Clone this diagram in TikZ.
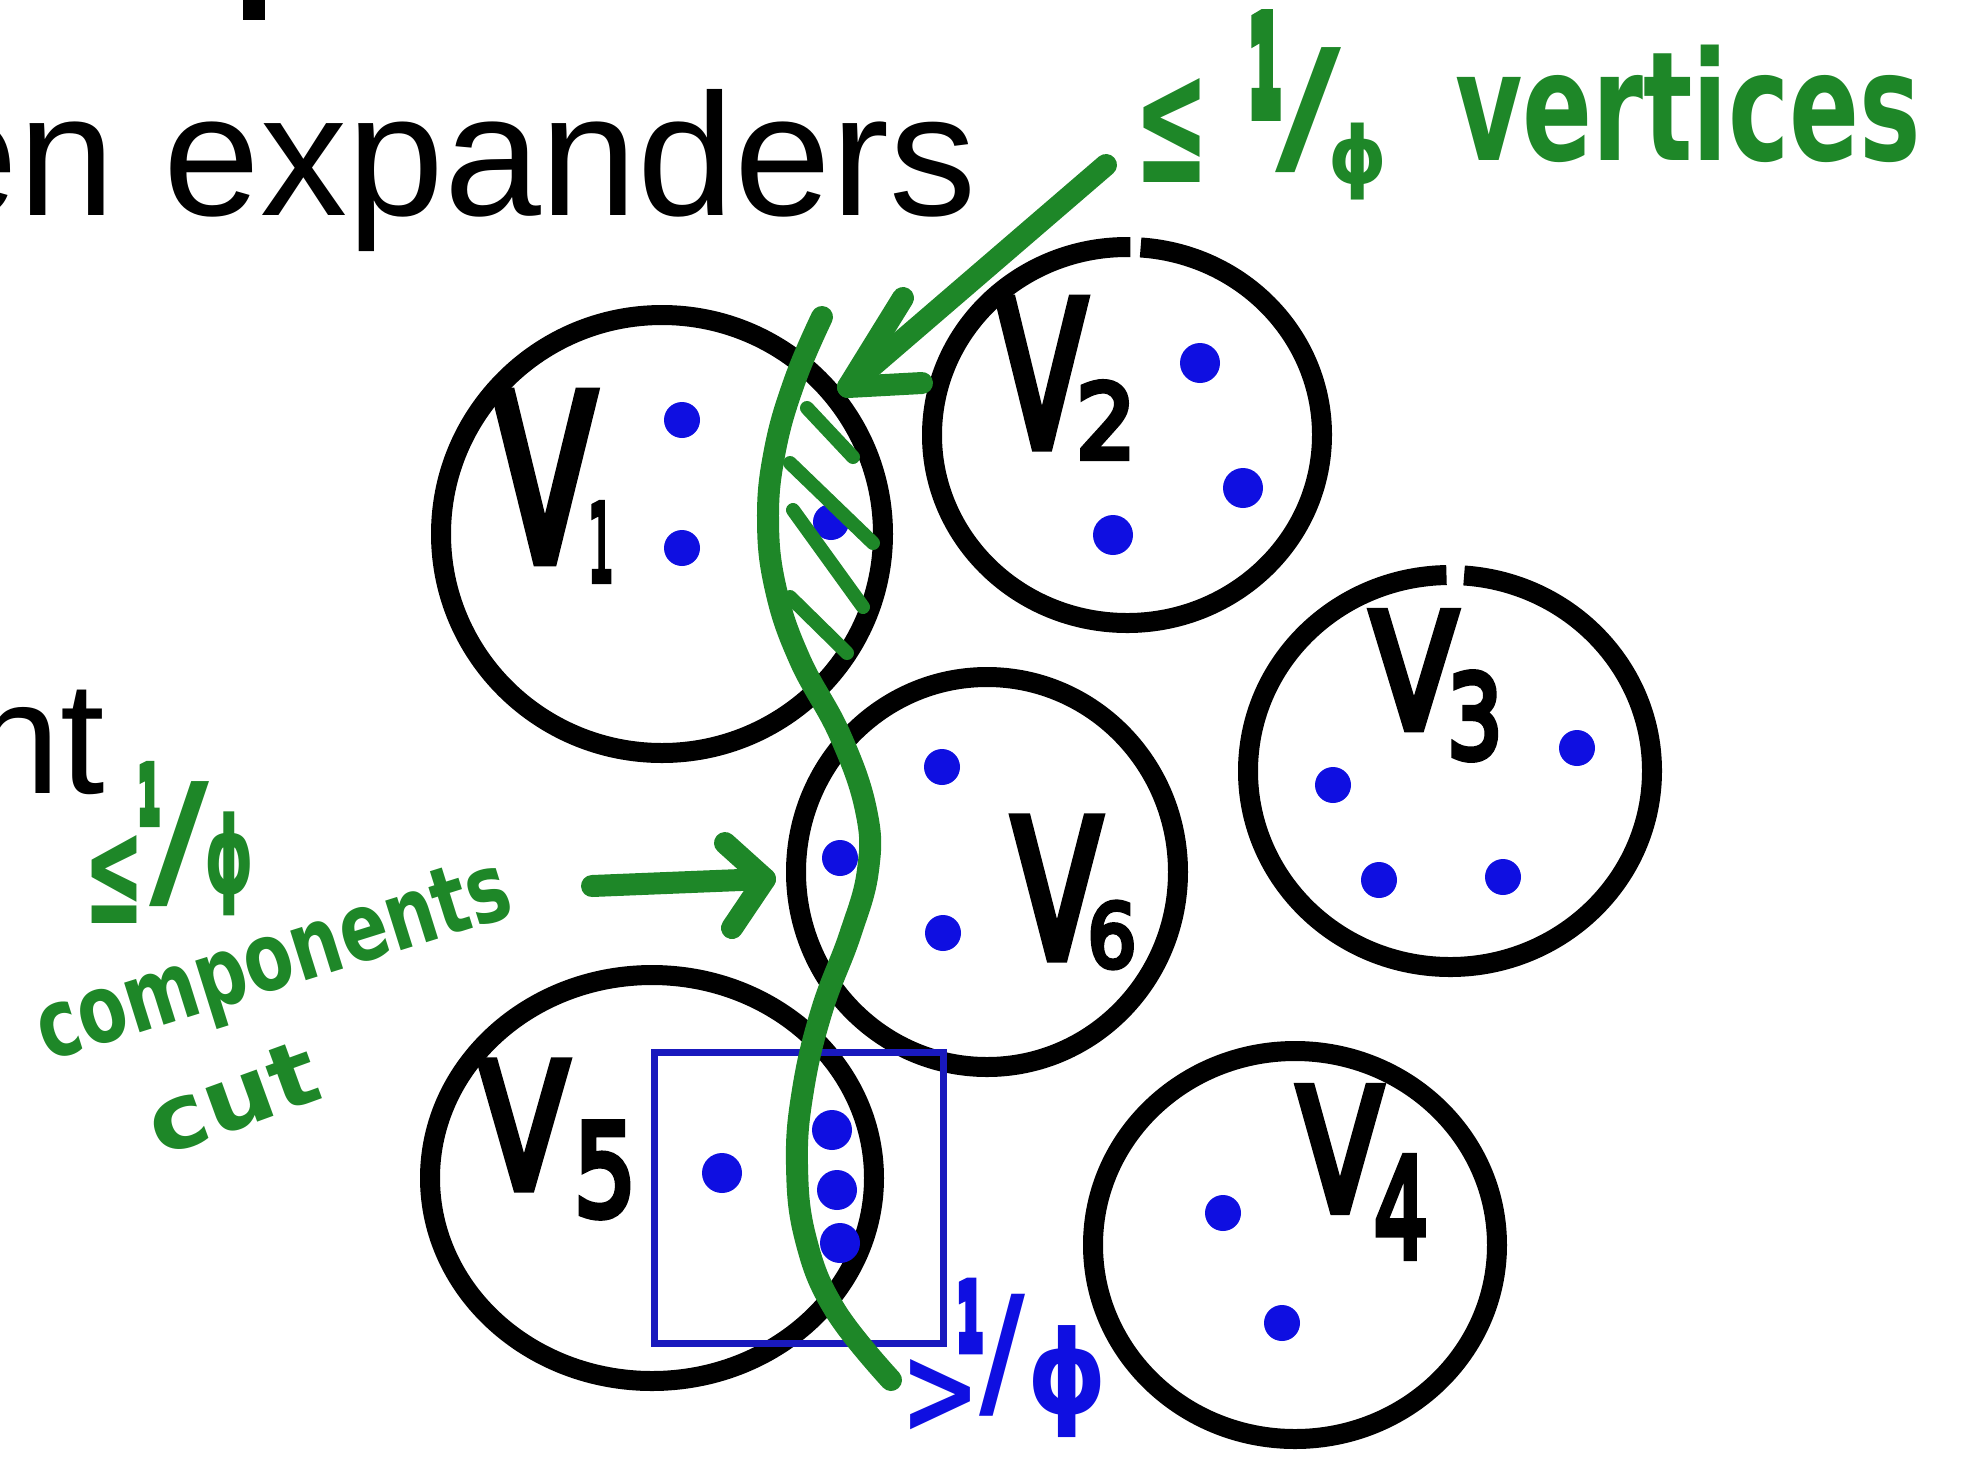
\documentclass[tikz,border=0pt]{standalone}
\usepackage{fontspec}
\usepackage{graphicx}
\newfontfamily\slidefont{Liberation Sans}
\newfontfamily\handfont{DejaVu Sans}
\newlength\pxu \setlength\pxu{0.5pt}
\newcommand\fitg[3]{\resizebox*{#1\pxu}{#2\pxu}{#3}}
\newcommand\heavy[1]{\special{pdf:literal direct 2 Tr 0.6 w}#1\special{pdf:literal direct 0 Tr}}
\newcommand\heavier[1]{\special{pdf:literal direct 2 Tr 1.2 w}#1\special{pdf:literal direct 0 Tr}}
\definecolor{pen}{RGB}{30,135,40}
\definecolor{dotblue}{RGB}{15,15,225}
\definecolor{boxblue}{RGB}{25,25,190}
\begin{document}
\begin{tikzpicture}[x=0.5pt,y=-0.5pt,
  ring/.style={draw=black, line width=10pt},
  vtx/.style={circle, fill=dotblue, inner sep=0pt, minimum size=18pt},
  vtxbig/.style={vtx, minimum size=20pt},
  hand/.style={inner sep=0pt, outer sep=0pt, font=\handfont},
  lbl/.style={hand, text=black},
  gtxt/.style={hand, text=pen, font=\handfont\bfseries},
  btxt/.style={hand, text=dotblue, font=\handfont\bfseries},
  slide/.style={inner sep=0pt, outer sep=0pt, text=black},
  penline/.style={draw=pen, line width=11pt, line cap=round, line join=round},
  hatchline/.style={draw=pen, line width=7pt, line cap=round},
]
\useasboundingbox (0,0) rectangle (1982,1458);
\clip (0,0) rectangle (1982,1458);

% slide text
\node[slide, anchor=base west, font=\slidefont\fontsize{87pt}{90pt}\selectfont] (title) at (-78,215) {en expanders};
\node[slide, anchor=base east, font=\slidefont\fontsize{80pt}{84pt}\selectfont] (nt) at (105,793) {nt};
\fill[black] (243,0) rectangle (265,20);

% clusters
\draw[ring] (662,534) ellipse [x radius=221, y radius=219];
\draw[ring] (1127,435) ++(-86:195 and 188) arc[start angle=-86, end angle=271, x radius=195, y radius=188];
\draw[ring] (1450,771) ++(-86:202 and 196) arc[start angle=-86, end angle=269, x radius=202, y radius=196];
\draw[ring] (987,872) ellipse [x radius=191, y radius=195];
\draw[ring] (652,1178) ellipse [x radius=222, y radius=203];
\draw[ring] (1295,1245) ellipse [x radius=202, y radius=194];

% cluster labels
\node[lbl] (V1) at (545,477) {\fitg{100}{165}{\heavy{V}}};
\node[lbl] (V1s) at (601,542) {\fitg{26}{78}{\heavy{1}}};
\node[lbl] (V2) at (1042,373) {\fitg{88}{145}{\heavy{V}}};
\node[lbl] (V2s) at (1106,420) {\fitg{60}{76}{\heavy{2}}};
\node[lbl] (V3) at (1414,670) {\fitg{86}{115}{\heavy{V}}};
\node[lbl] (V3s) at (1475,716) {\fitg{55}{87}{\heavy{3}}};
\node[lbl] (V6) at (1057,888) {\fitg{88}{138}{\heavy{V}}};
\node[lbl] (V6s) at (1112,935) {\fitg{49}{66}{\heavy{6}}};
\node[lbl] (V5) at (524,1125) {\fitg{88}{125}{\heavy{V}}};
\node[lbl] (V5s) at (605,1170) {\fitg{62}{94}{\heavy{5}}};
\node[lbl] (V4) at (1340,1149) {\fitg{84}{122}{\heavy{V}}};
\node[lbl] (V4s) at (1401,1207) {\fitg{54}{100}{\heavy{4}}};

% blue box
\draw[draw=boxblue, line width=3.5pt] (654,1052) rectangle (943,1343);

% vertices
\node[vtx] (a1) at (682,420) {};
\node[vtx] (a2) at (682,548) {};
\node[vtx] (a3) at (831,522) {};
\node[vtxbig] (b1) at (1200,363) {};
\node[vtxbig] (b2) at (1243,488) {};
\node[vtxbig] (b3) at (1113,535) {};
\node[vtx] (c1) at (1577,748) {};
\node[vtx] (c2) at (1333,785) {};
\node[vtx] (c3) at (1379,880) {};
\node[vtx] (c4) at (1503,877) {};
\node[vtx] (f1) at (942,767) {};
\node[vtx] (f2) at (840,858) {};
\node[vtx] (f3) at (943,933) {};
\node[vtxbig] (e1) at (722,1173) {};
\node[vtxbig] (e2) at (832,1130) {};
\node[vtxbig] (e3) at (837,1190) {};
\node[vtxbig] (e4) at (840,1243) {};
\node[vtx] (d1) at (1223,1213) {};
\node[vtx] (d2) at (1282,1323) {};

% hatching
\draw[hatchline] (807,408) -- (853,457);
\draw[hatchline] (790,463) -- (873,543);
\draw[hatchline] (793,510) -- (863,607);
\draw[hatchline] (790,597) -- (847,653);

% the cut
\draw[penline] plot[smooth, tension=0.7] coordinates {(822,317) (795,380) (775,450) (768,520) (776,590) (800,660) (840,735) (866,810) (868,870) (850,935) (822,1010) (803,1090) (797,1165) (806,1240) (835,1310) (891,1380)};

% top label
\node[gtxt] (tle) at (1172,130) {\fitg{75}{104}{≤}};
\node[gtxt] (tone) at (1265,65) {\fitg{32}{96}{\heavier{1}}};
\node[gtxt] (tsl) at (1308,110) {\fitg{66}{125}{/}};
\node[gtxt] (tphi) at (1358,162) {\fitg{59}{77}{ϕ}};
\node[gtxt, anchor=base west] (tvert) at (1455,160) {\scalebox{0.68}[1]{\fontsize{76pt}{80pt}\selectfont vertices}};
\coordinate (ttail) at (1106,165);
\coordinate (ttip) at (848,387);
\coordinate (tb1) at (922,383);
\coordinate (tb2) at (903,298);
\draw[penline] (ttail) -- (ttip);
\draw[penline] (tb1) -- (ttip) -- (tb2);

% left label
\node[gtxt] (lle) at (114,879) {\fitg{60}{88}{≤}};
\node[gtxt] (lone) at (149,794) {\fitg{22}{57}{\heavier{1}}};
\node[gtxt] (lsl) at (179,844) {\fitg{60}{125}{/}};
\node[gtxt] (lphi) at (230,864) {\fitg{50}{104}{ϕ}};
\node[gtxt, anchor=base, rotate=17.4] (comp) at (282,988) {\scalebox{0.75}[1]{\fontsize{47.5pt}{50pt}\selectfont components}};
\node[gtxt, anchor=base, rotate=20] (cut) at (243,1127) {\scalebox{1.1}[1]{\fontsize{45pt}{48pt}\selectfont cut}};
\coordinate (ltail) at (592,886);
\coordinate (ltip) at (765,879);
\coordinate (lb1) at (725,843);
\coordinate (lb2) at (732,928);
\draw[penline] (ltail) -- (ltip);
\draw[penline] (lb1) -- (ltip) -- (lb2);

% blue label
\node[btxt] (bgt) at (940,1396) {\fitg{80}{74}{>}};
\node[btxt] (bone) at (970,1316) {\fitg{26}{66}{\heavier{1}}};
\node[btxt] (bsl) at (1002,1355) {\fitg{46}{122}{/}};
\node[btxt] (bphi) at (1068,1382) {\fitg{80}{112}{ϕ}};
\end{tikzpicture}
\end{document}
